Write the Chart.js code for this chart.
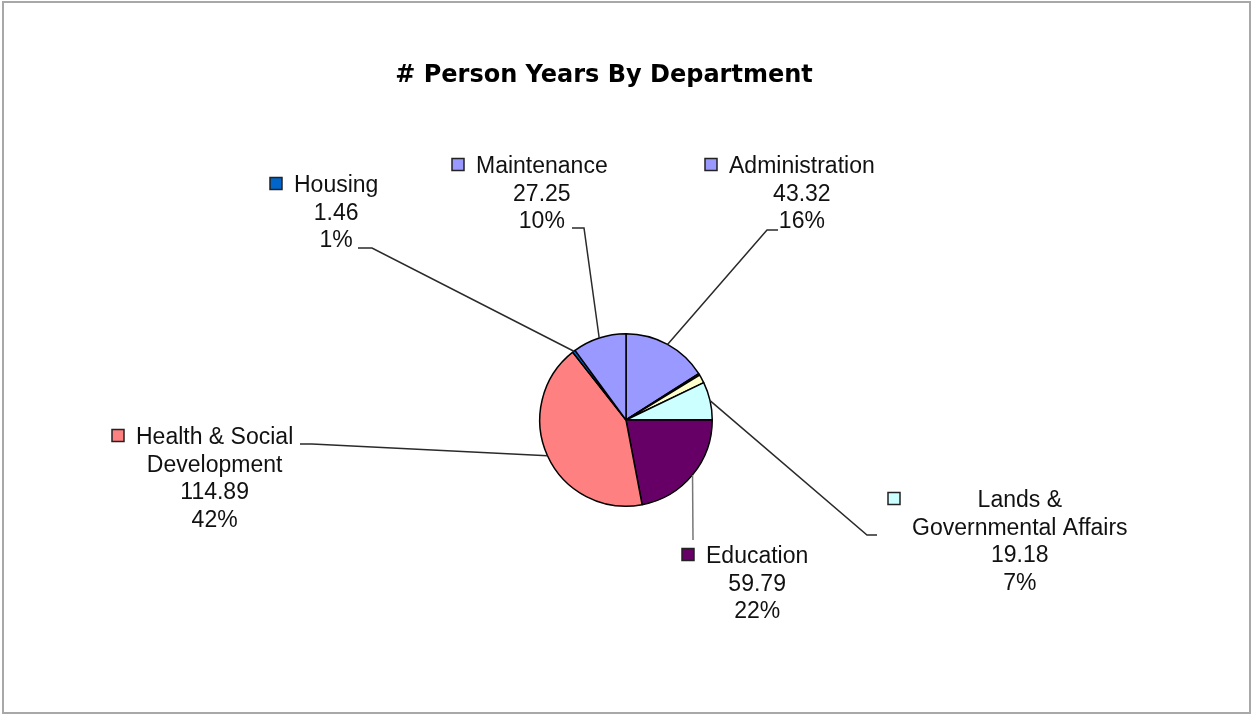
<!DOCTYPE html>
<html>
<head>
<meta charset="utf-8">
<script src="https://cdn.jsdelivr.net/npm/chart.js@4.4.0/dist/chart.umd.min.js"></script>
<style>
  html, body { margin: 0; padding: 0; background: #fff; }
  #wrap { width: 1255px; height: 716px; }
</style>
</head>
<body>
<div id="wrap"><canvas id="pie-chart" width="1255" height="716"></canvas></div>
<script>
const chartTitle = "# Person Years By Department";
// two small slices have no label in the original
const categories = [
  "Administration",
  "",
  "",
  ["Lands &", "Governmental Affairs"],
  "Education",
  ["Health & Social", "Development"],
  "Housing",
  "Maintenance"
];
const personYears = [43.32, 0.8, 4.3, 19.18, 59.79, 114.89, 1.46, 27.25];
const sliceColors = ["#9999FF", "#993366", "#FFFFCC", "#CCFFFF", "#660066", "#FF8080", "#0066CC", "#9999FF"];

// where each label block sits: key square x, first text line y, leader elbow points
const labelSpots = [
  { keyX: 705, y: 166, leader: [[767, 230], [778, 230]] },
  null,
  null,
  { keyX: 888, y: 500, leader: [[867, 535], [877, 535]] },
  { keyX: 682, y: 556, leader: [[693, 540]], color: "#777" },
  { keyX: 112, y: 437, leader: [[312, 444], [300, 444]] },
  { keyX: 270, y: 185, leader: [[372, 248], [358, 248]] },
  { keyX: 452, y: 166, leader: [[584, 228], [572, 228]] }
];

const pieLabels = {
  id: "pieLabels",
  beforeDraw(chart) {
    const ctx = chart.ctx;
    ctx.save();
    ctx.fillStyle = "#fff";
    ctx.fillRect(0, 0, chart.width, chart.height);
    ctx.strokeStyle = "#a8a8a8";
    ctx.lineWidth = 2;
    ctx.strokeRect(3, 2, 1247, 711);
    ctx.font = "bold 24px 'DejaVu Sans'";
    ctx.fillStyle = "#000";
    ctx.textAlign = "center";
    ctx.textBaseline = "middle";
    ctx.fillText(chartTitle, 604, 76);
    ctx.restore();
  },
  afterDatasetsDraw(chart) {
    const ctx = chart.ctx;
    const meta = chart.getDatasetMeta(0);
    const total = personYears.reduce((a, b) => a + b, 0);
    ctx.save();
    ctx.font = "23px 'Liberation Sans', Arial, sans-serif";
    ctx.textBaseline = "middle";
    ctx.textAlign = "center";
    meta.data.forEach((arc, i) => {
      const spot = labelSpots[i];
      if (!spot) return;
      const mid = (arc.startAngle + arc.endAngle) / 2;
      const sx = arc.x + Math.cos(mid) * arc.outerRadius;
      const sy = arc.y + Math.sin(mid) * arc.outerRadius;
      ctx.strokeStyle = spot.color || "#2a2a2a";
      ctx.lineWidth = 1.5;
      ctx.beginPath();
      ctx.moveTo(sx, sy);
      spot.leader.forEach(p => ctx.lineTo(p[0], p[1]));
      ctx.stroke();

      const lines = [].concat(
        categories[i],
        personYears[i].toFixed(2),
        Math.round(personYears[i] / total * 100) + "%"
      );
      const colW = Math.max(...lines.map(t => ctx.measureText(t).width));
      const cx = spot.keyX + 12 + 12 + colW / 2;

      ctx.fillStyle = sliceColors[i];
      ctx.strokeStyle = "#222";
      ctx.lineWidth = 1.5;
      ctx.fillRect(spot.keyX, spot.y - 7.5, 12, 12);
      ctx.strokeRect(spot.keyX, spot.y - 7.5, 12, 12);

      ctx.fillStyle = "#111";
      lines.forEach((t, k) => ctx.fillText(t, cx, spot.y + 1 + k * 27.5));
    });
    ctx.restore();
  }
};

new Chart(document.getElementById("pie-chart"), {
  type: "pie",
  data: {
    labels: categories,
    datasets: [
      {
        label: "Person Years",
        data: personYears,
        backgroundColor: sliceColors,
        borderColor: "#000",
        borderWidth: 1.5,
        hoverOffset: 0
      }
    ]
  },
  options: {
    responsive: false,
    animation: false,
    layout: {
      padding: { top: 333, bottom: 209, left: 426, right: 429 }
    },
    plugins: {
      legend: { display: false },
      title: { display: false },
      tooltip: { enabled: false }
    }
  },
  plugins: [pieLabels]
});
</script>
</body>
</html>
